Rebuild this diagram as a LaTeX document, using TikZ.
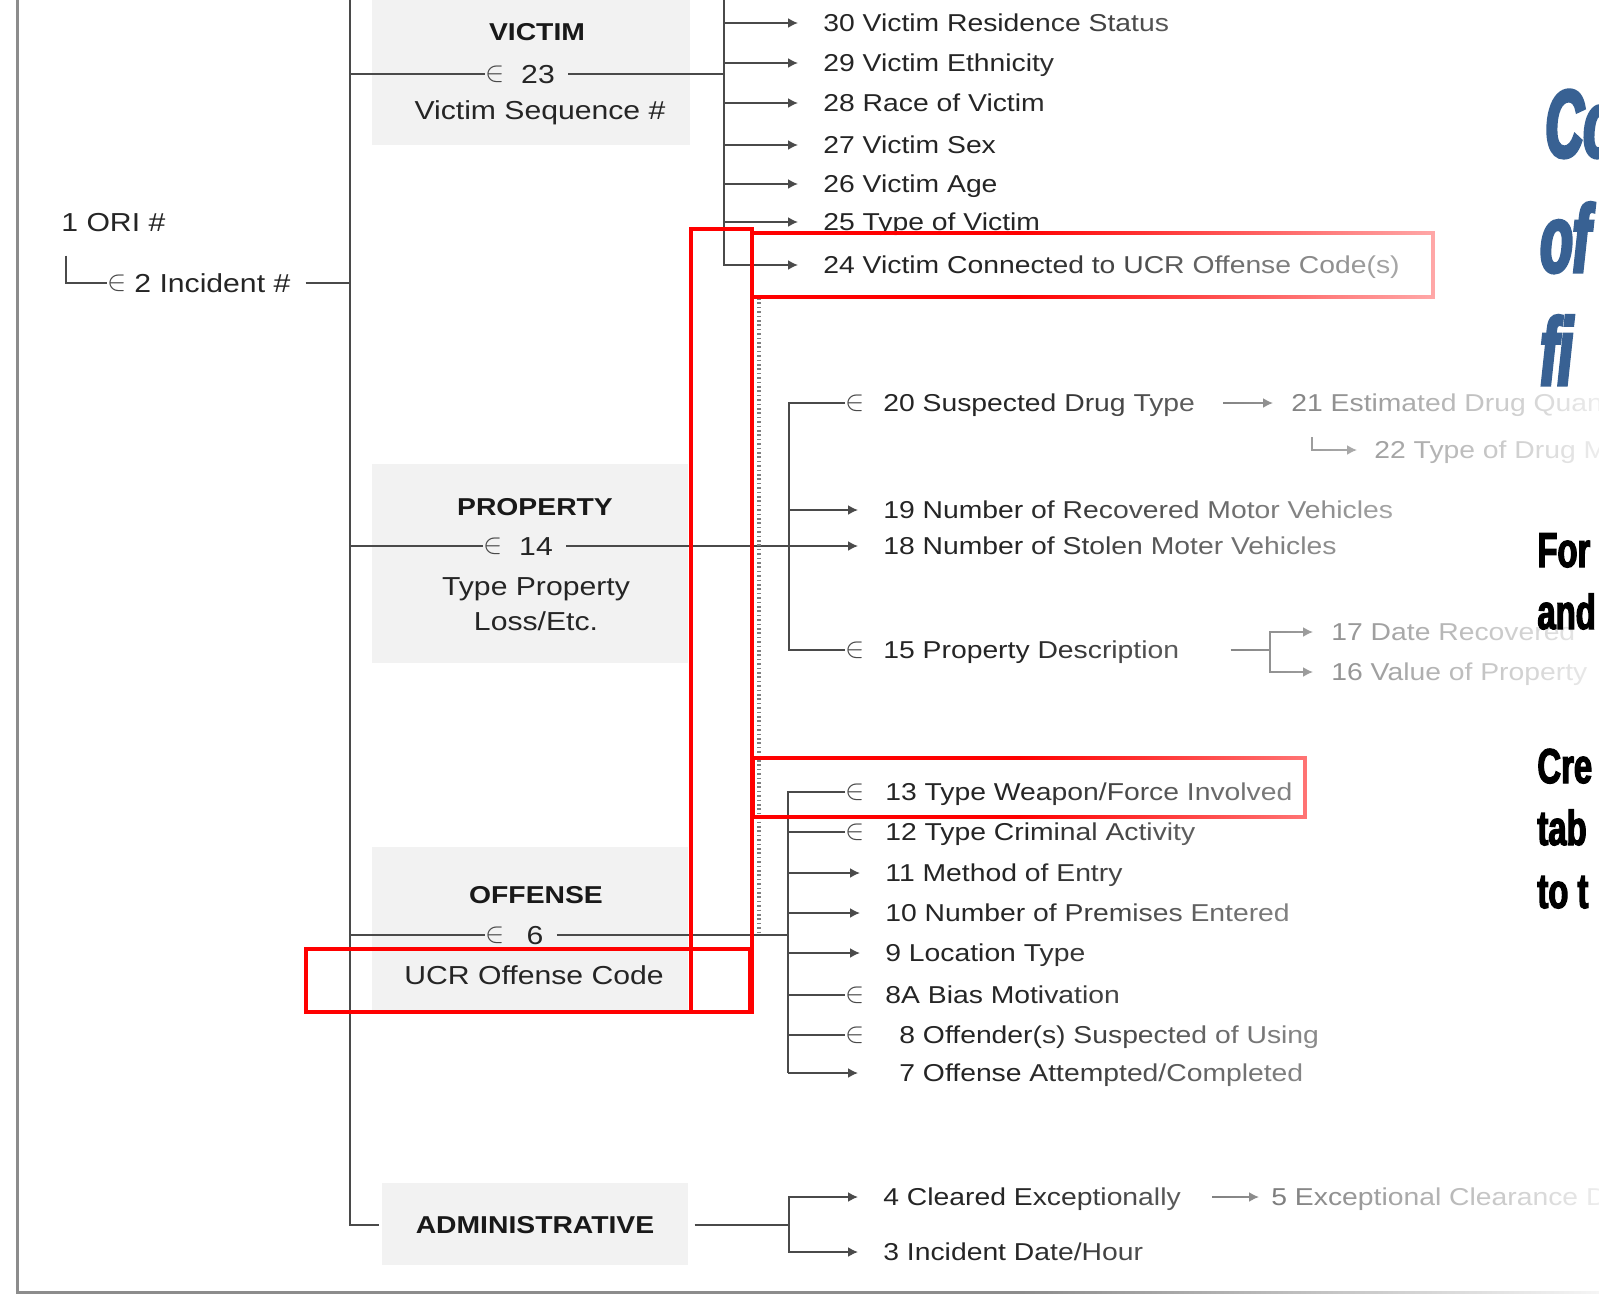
\documentclass[tikz,border=0pt]{standalone}
\usepackage{fontspec}
\setmainfont{Liberation Sans}[FakeStretch=1.16]
\newfontfamily\sidefont{Liberation Sans}[FakeStretch=0.67,FakeBold=2.5]
\newfontfamily\titlefont{Liberation Sans}[FakeStretch=0.55,FakeBold=3.5]
\usepackage{xcolor}
\usepackage{tikz}
\usetikzlibrary{arrows.meta,positioning,calc,fadings}

\definecolor{txt}{HTML}{252525}
\definecolor{ln}{HTML}{4A4A4A}
\definecolor{hlred}{HTML}{FF0000}
\definecolor{slideblue}{HTML}{386193}
\newcommand\rowsz{\fontsize{12.2}{14}\selectfont}
\newcommand\grpsz{\fontsize{13}{15}\selectfont}
\tikzfading[name=fadeR,left color=transparent!100,right color=transparent!0]

\begin{document}
\begin{tikzpicture}[
  x=0.5pt,y=-0.5pt,
  item/.style={anchor=west,inner sep=0pt,text height=8.6pt,text depth=0pt,text=txt,font=\rowsz},
  grp/.style={inner sep=0pt,text height=9.3pt,text depth=0pt,text=txt,font=\grpsz},
  hdr/.style={inner sep=0pt,text height=8.6pt,text depth=0pt,text=black!90,font=\rowsz\bfseries},
  many/.style={inner sep=0pt,text=ln,font=\fontsize{15.5}{17}\selectfont},
  link/.style={draw=ln,line width=0.9pt},
  arr/.style={link,-{Latex[length=5pt,width=5pt]},shorten >=12.5pt},
  shade/.style={fill=black!5},
  hl/.style={draw=hlred,line width=1.6pt},
  side/.style={anchor=base west,inner sep=0pt,text=black,font=\sidefont\bfseries\fontsize{24.5}{28}\selectfont},
  title/.style={anchor=base west,inner sep=0pt,text=slideblue,font=\titlefont\bfseries\itshape\fontsize{48}{50}\selectfont}
]
\useasboundingbox (0,0) rectangle (1599,1296);
\clip (0,0) rectangle (1599,1296);
\fill[white] (0,0) rectangle (1599,1296);

% grey label panels
\fill[shade] (372,-5) rectangle (690,145);
\fill[shade] (372,464) rectangle (688,663);
\fill[shade] (372,847) rectangle (688,1010);
\fill[shade] (382,1183) rectangle (688,1265);
\draw[black!45,line width=1.5pt] (17,-5) |- (1610,1292);

% incident
\node[grp,anchor=west] (ori) at (61,222) {1 ORI \#};
\node[many] (m2) at (117,283) {$\in$};
\node[grp,anchor=west] (inc) at (134,283) {2 Incident \#};
\draw[link] ([xshift=2.5pt,yshift=-12pt]ori.south west) |- (m2);

\coordinate (tTop) at (350,-10);
\node[hdr] (adm) at (535,1225) {ADMINISTRATIVE};
\draw[link] (tTop) |- ([xshift=-18pt]adm.west);
\draw[link,shorten <=7.5pt] (inc) -- (inc -| tTop);

% victim
\node[hdr] (vic) at (537,32) {VICTIM};
\node[many] (m23) at (495,74) {$\in$};
\node[grp] (v23) at (538,74) {23};
\node[grp] (vseq) at (540,110) {Victim Sequence \#};
\draw[link] (m23 -| tTop) -- (m23);
\coordinate (vb) at (724,-10);
\draw[link,shorten <=6.5pt] (v23) -- (v23 -| vb);

\node[item] (v30) at (823,23) {30 Victim Residence Status};
\node[item] (v29) at (823,63) {29 Victim Ethnicity};
\node[item] (v28) at (823,103) {28 Race of Victim};
\node[item] (v27) at (823,145) {27 Victim Sex};
\node[item] (v26) at (823,184) {26 Victim Age};
\node[item] (v25) at (823,222) {25 Type of Victim};
\node[item] (v24) at (823,265) {24 Victim Connected to UCR Offense Code(s)};
\draw[arr] (vb) |- (v24);
\draw[arr] (v30 -| vb) -- (v30);
\draw[arr] (v29 -| vb) -- (v29);
\draw[arr] (v28 -| vb) -- (v28);
\draw[arr] (v27 -| vb) -- (v27);
\draw[arr] (v26 -| vb) -- (v26);
\draw[arr] (v25 -| vb) -- (v25);

% property
\node[hdr] (prop) at (535,507) {PROPERTY};
\node[many] (m14) at (493,546) {$\in$};
\node[grp] (p14) at (536,546) {14};
\node[grp] (ptype) at (536,586) {Type Property};
\node[grp] (ploss) at (536,621) {Loss/Etc.};
\draw[link] (m14 -| tTop) -- (m14);
\coordinate (pb) at (789,403);
\node[item] (p20) at (883,403) {20 Suspected Drug Type};
\node[item] (p19) at (883,510) {19 Number of Recovered Motor Vehicles};
\node[item] (p18) at (883,546) {18 Number of Stolen Moter Vehicles};
\node[item] (p15) at (883,650) {15 Property Description};
\node[many] (m20) at (855,403) {$\in$};
\node[many] (m15) at (855,650) {$\in$};
\draw[link] (m20) -- (pb) -- (pb |- m15) -- (m15);
\draw[arr] (p19 -| pb) -- (p19);
\draw[arr,shorten <=6.5pt] (p14) -- (p18);

\node[item] (p21) at (1291,403) {21 Estimated Drug Quan};
\node[item] (p22) at (1374,450) {22 Type of Drug M};
\draw[arr,shorten <=14pt,shorten >=9pt] (p20) -- (p21);
\draw[arr,shorten >=8.5pt] ([xshift=10.5pt,yshift=-12.5pt]p21.south west) |- (p22);
\node[item] (p17) at (1331,632) {17 Date Recovered};
\node[item] (p16) at (1331,672) {16 Value of Property};
\coordinate (pk) at (1270,650);
\draw[link,shorten <=25.5pt] (p15) -- (pk);
\draw[arr,shorten >=9pt] (pk) |- (p17);
\draw[arr,shorten >=9pt] (pk) |- (p16);

% offense
\node[hdr] (off) at (536,895) {OFFENSE};
\node[many] (m6) at (495,935) {$\in$};
\node[grp] (o6) at (535,935) {6};
\node[grp] (ucr) at (534,975) {UCR Offense Code};
\draw[link] (m6 -| tTop) -- (m6);
\coordinate (ob) at (788,792);
\draw[link,shorten <=6.5pt] (o6) -- (o6 -| ob);

\node[item] (o13) at (885,792) {13 Type Weapon/Force Involved};
\node[item] (o12) at (885,832) {12 Type Criminal Activity};
\node[item] (o11) at (885,873) {11 Method of Entry};
\node[item] (o10) at (885,913) {10 Number of Premises Entered};
\node[item] (o9) at (885,953) {9 Location Type};
\node[item] (o8a) at (885,995) {8A Bias Motivation};
\node[item] (o8) at (899,1035) {8 Offender(s) Suspected of Using};
\node[item] (o7) at (899,1073) {7 Offense Attempted/Completed};
\node[many] (m13) at (855,792) {$\in$};
\node[many] (m12) at (855,832) {$\in$};
\node[many] (m8a) at (855,995) {$\in$};
\node[many] (m8) at (855,1035) {$\in$};
\draw[link] (m13) -- (ob) -- (ob |- o7);
\draw[link] (m12 -| ob) -- (m12);
\draw[link] (m8a -| ob) -- (m8a);
\draw[link] (m8 -| ob) -- (m8);
\draw[arr] (o11 -| ob) -- (o11);
\draw[arr] (o10 -| ob) -- (o10);
\draw[arr] (o9 -| ob) -- (o9);
\draw[arr,shorten >=20.5pt] (o7 -| ob) -- (o7);

% administrative
\coordinate (ab) at (789,1225);
\node[item] (a4) at (883,1197) {4 Cleared Exceptionally};
\node[item] (a3) at (883,1252) {3 Incident Date/Hour};
\node[item] (a5) at (1271,1197) {5 Exceptional Clearance D};
\draw[link,shorten <=20pt] (adm) -- (ab);
\draw[arr] (ab) |- (a4);
\draw[arr] (ab) |- (a3);
\draw[arr,shorten <=15.5pt,shorten >=6pt] (a4) -- (a5);

% red highlights
\draw[black!50,line width=2pt,dash pattern=on 0.8pt off 1.4pt] (759,298) -- (759,935);
\draw[hl] (691,229) rectangle (752,1012);
\draw[hl] (752,233) rectangle (1433,297);
\draw[hl] (753,758) rectangle (1305,817);
\draw[hl] (306,949) rectangle (750,1012);

% fade towards the slide text
\fill[white,path fading=fadeR] (1020,-10) rectangle (1650,1310);

\node[title] (t1) at (1545,157) {Co};
\node[title] (t2) at (1540,272) {of};
\node[title] (t3) at (1540,385) {fi};
\node[side] (s1) at (1537,567) {For};
\node[side] (s2) at (1537,629) {and};
\node[side] (s3) at (1537,783) {Cre};
\node[side] (s4) at (1537,845) {tab};
\node[side] (s5) at (1537,908) {to t};
\end{tikzpicture}
\end{document}
